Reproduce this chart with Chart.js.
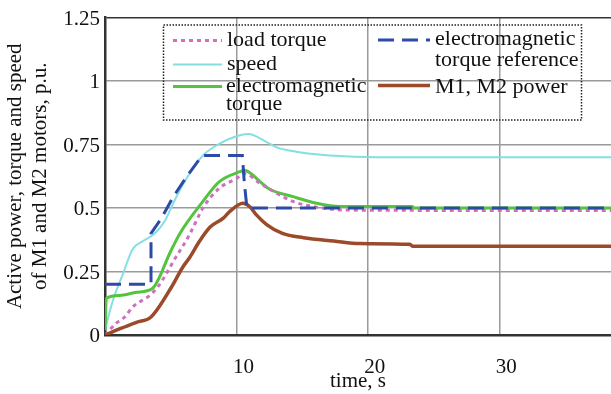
<!DOCTYPE html>
<html>
<head>
<meta charset="utf-8">
<script src="https://cdn.jsdelivr.net/npm/chart.js@4.4.0/dist/chart.umd.min.js"></script>
<style>
  html, body { margin: 0; padding: 0; background: #fff; font-family: 'Liberation Serif', serif; }
  #warm { position: absolute; left: -9999px; top: 0; }
</style>
</head>
<body>
<span id="warm">time, s</span>
<canvas id="chart" width="611" height="394"></canvas>
<script>
// values: time in s, everything else in p.u.
const loadT  = [0, 0.86, 1.5, 2.1, 3.4, 4.0, 5.4, 6.44, 7.45, 8.7, 10.0, 10.6, 11.8, 14.3, 15.8, 18.4, 38.5];
const loadV  = [0, 0.047, 0.071, 0.11, 0.156, 0.188, 0.307, 0.396, 0.50, 0.578, 0.616, 0.636, 0.597, 0.526, 0.506, 0.492, 0.49];

const speedT = [0, 0.6, 1.36, 2.1, 2.9, 3.78, 4.54, 5.2, 6.2, 7.45, 8.7, 10.0, 10.9, 12.3, 13.0, 14.8, 17.1, 20.7, 38.5];
const speedV = [0.02, 0.136, 0.24, 0.338, 0.37, 0.40, 0.448, 0.52, 0.616, 0.707, 0.753, 0.783, 0.792, 0.76, 0.74, 0.72, 0.707, 0.70, 0.70];

const emT = [0, 0.1, 1.1, 2.4, 3.6, 5.0, 5.7, 7.45, 8.7, 10.25, 10.6, 11.8, 12.5, 14.3, 16.1, 17.9, 23.4, 23.5, 38.5];
const emV = [0.02, 0.145, 0.156, 0.168, 0.183, 0.33, 0.40, 0.526, 0.604, 0.643, 0.649, 0.604, 0.575, 0.545, 0.519, 0.506, 0.506, 0.50, 0.50];

const refT = [0, 3.5, 3.5, 4.3, 5.2, 6.3, 7.4, 10.45, 10.6, 10.8, 38.5];
const refV = [0.2, 0.2, 0.40, 0.46, 0.545, 0.63, 0.707, 0.707, 0.6, 0.5, 0.5];

const powT = [0, 1.2, 2.4, 3.5, 5.05, 5.9, 6.44, 7.2, 8.0, 9.0, 9.5, 10.5, 11.0, 11.5, 12.3, 13.5, 15.1, 17.4, 19.4, 23.2, 23.4, 38.5];
const powV = [0, 0.026, 0.05, 0.071, 0.188, 0.266, 0.305, 0.37, 0.425, 0.46, 0.487, 0.519, 0.506, 0.474, 0.435, 0.40, 0.383, 0.37, 0.36, 0.357, 0.35, 0.35];

const xTicks = [0, 10, 20, 30];
const yTitle = ['Active power, torque and speed', 'of M1 and M2 motors, p.u.'];
const xTitle = 'time, s';

const pts = (t, v) => t.map((x, i) => ({ x, y: v[i] }));

const FONT = "'Liberation Serif', serif";

// legend drawn by hand: dotted frame, two columns, wrapped labels
const legendBox = {
  id: 'legendBox',
  afterDraw(chart) {
    const { ctx, chartArea: a } = chart;
    const ds = chart.data.datasets;
    const L = a.left, T = a.top;
    ctx.save();
    ctx.strokeStyle = '#222';
    ctx.lineWidth = 1.5;
    ctx.setLineDash([1.5, 1.5]);
    ctx.strokeRect(L + 58.5, T + 7.5, 418, 95);

    const entries = [
      { label: 'load torque', sx: 68, sy: 23, tx: 122, lines: [['load torque', 22.5]] },
      { label: 'speed', sx: 68, sy: 47, tx: 122, lines: [['speed', 47]] },
      { label: 'electromagnetic torque', sx: 68, sy: 69, tx: 121, lines: [['electromagnetic', 69], ['torque', 87]] },
      { label: 'electromagnetic torque reference', sx: 273, sy: 22.5, tx: 330, lines: [['electromagnetic', 22], ['torque reference', 43]] },
      { label: 'M1, M2 power', sx: 273, sy: 68, tx: 330, lines: [['M1, M2 power', 70]] }
    ];
    const sampleLen = { 68: 49, 273: 52 };
    ctx.font = '22px ' + FONT;
    ctx.textBaseline = 'middle';
    ctx.textAlign = 'left';
    entries.forEach(e => {
      const d = ds.find(s => s.label === e.label);
      ctx.setLineDash(d.borderDash || []);
      ctx.strokeStyle = d.borderColor;
      ctx.lineWidth = d.borderWidth;
      ctx.beginPath();
      ctx.moveTo(L + e.sx, T + e.sy);
      ctx.lineTo(L + e.sx + sampleLen[e.sx], T + e.sy);
      ctx.stroke();
      ctx.fillStyle = '#111';
      e.lines.forEach(([txt, y]) => ctx.fillText(txt, L + e.tx, T + y));
    });
    ctx.restore();
  }
};

const line = (label, t, v, color, width, dash, smooth) => ({
  label, data: pts(t, v),
  borderColor: color, borderWidth: width, borderDash: dash,
  pointRadius: 0, fill: false,
  tension: smooth ? 0.4 : 0,
  cubicInterpolationMode: smooth ? 'monotone' : 'default'
});

function draw() {
  new Chart(document.getElementById('chart'), {
    type: 'line',
    data: {
      // first dataset is drawn on top
      datasets: [
        line('electromagnetic torque reference', refT, refV, '#2d4aa6', 3, [16, 8], false),
        line('M1, M2 power', powT, powV, '#9b4a2a', 3.5, [], true),
        line('load torque', loadT, loadV, '#d06fc2', 3, [4, 4], true),
        line('electromagnetic torque', emT, emV, '#52c43e', 3, [], true),
        line('speed', speedT, speedV, '#84dfe0', 2, [], true)
      ]
    },
    options: {
      responsive: false,
      animation: false,
      layout: { padding: { top: 14, right: 0, left: 0, bottom: 0 } },
      plugins: { legend: { display: false }, tooltip: { enabled: false } },
      scales: {
        x: {
          type: 'linear', min: 0, max: 38.5,
          afterBuildTicks: s => { s.ticks = xTicks.map(v => ({ value: v })); },
          afterFit: s => { s.height = 59; },
          grid: { color: '#9a9a9a', lineWidth: 1.5, drawTicks: false },
          border: { color: '#333', width: 2.5 },
          ticks: {
            padding: 20, labelOffset: 7, color: '#111', maxRotation: 0,
            font: { family: FONT, size: 21 },
            callback: v => (v === 0 ? '' : String(v))
          },
          title: {
            display: true, text: xTitle, color: '#111',
            font: { family: FONT, size: 21, lineHeight: 1.2 }, padding: { top: 0, bottom: 0 }
          }
        },
        y: {
          min: 0, max: 1.25,
          afterFit: s => { s.width = 105; },
          grid: {
            drawTicks: false, lineWidth: 1.5,
            color: c => (c.tick && c.tick.value === 1.25 ? '#333' : '#9a9a9a')
          },
          border: { color: '#333', width: 2.5 },
          ticks: {
            stepSize: 0.25, padding: 5, labelOffset: 1.5, color: '#111',
            font: { family: FONT, size: 21 },
            callback: v => String(+v.toFixed(2))
          },
          title: {
            display: true, text: yTitle, color: '#111',
            font: { family: FONT, size: 21, lineHeight: 1.2 }, padding: { top: 3, bottom: 0 }
          }
        }
      }
    },
    plugins: [legendBox]
  });
}

// make sure the serif face is ready before the canvas text is drawn
document.fonts.load("21px 'Liberation Serif'").then(draw, draw);
</script>
</body>
</html>
